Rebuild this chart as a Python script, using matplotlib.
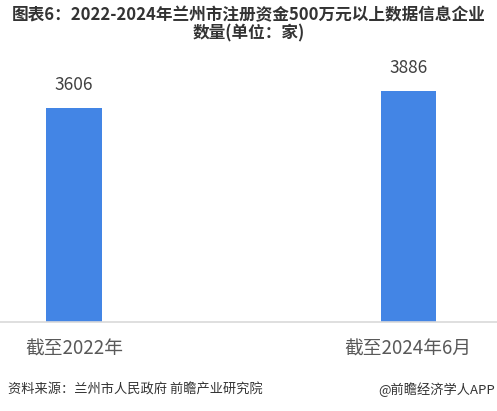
"""
兰州市注册资金500万元以上数据信息企业数量
"""

import matplotlib.pyplot as plt

plt.rcParams["font.family"] = ["Noto Sans CJK SC", "DejaVu Sans"]

categories = ["截至2022年", "截至2024年6月"]
counts = [3606, 3886]

TITLE = "图表6：2022-2024年兰州市注册资金500万元以上数据信息企业\n数量(单位：家)"
SOURCE = "资料来源：兰州市人民政府 前瞻产业研究院"
CREDIT = "@前瞻经济学人APP"


def main():
    fig = plt.figure(figsize=(4.97, 4.11), dpi=100)
    ax = fig.add_axes([0, 89 / 411, 1, 282 / 411])

    x = list(range(len(categories)))
    bars = ax.bar(x, counts, width=0.165, color="#4385E5")
    ax.set_xlim(-0.2216, 1.266)
    ax.set_ylim(0, 4747)

    for bar in bars:
        h = bar.get_height()
        ax.text(bar.get_x() + bar.get_width() / 2, h + 230, f"{h:.0f}",
                ha="center", va="bottom", fontsize=12.5, color="#404040")

    for s in ["top", "right", "left"]:
        ax.spines[s].set_visible(False)
    ax.spines["bottom"].set_color("#d9d9d9")
    ax.spines["bottom"].set_linewidth(1.2)
    ax.set_yticks([])
    ax.set_xticks(x)
    ax.set_xticklabels(categories, fontsize=13.5, color="#595959")
    ax.tick_params(axis="x", length=0, pad=12)

    fig.text(0.5, 0.985, TITLE, ha="center", va="top", fontsize=12,
             fontweight="bold", color="#333333", linespacing=1.0)
    fig.text(8 / 497, 1 - 390 / 411, SOURCE, ha="left", va="center",
             fontsize=9.5, color="#333333")
    fig.text(1 - 2 / 497, 1 - 390 / 411, CREDIT, ha="right", va="center",
             fontsize=9.5, color="#333333")

    fig.savefig("out.png", dpi=100)
    plt.close(fig)


if __name__ == "__main__":
    main()
